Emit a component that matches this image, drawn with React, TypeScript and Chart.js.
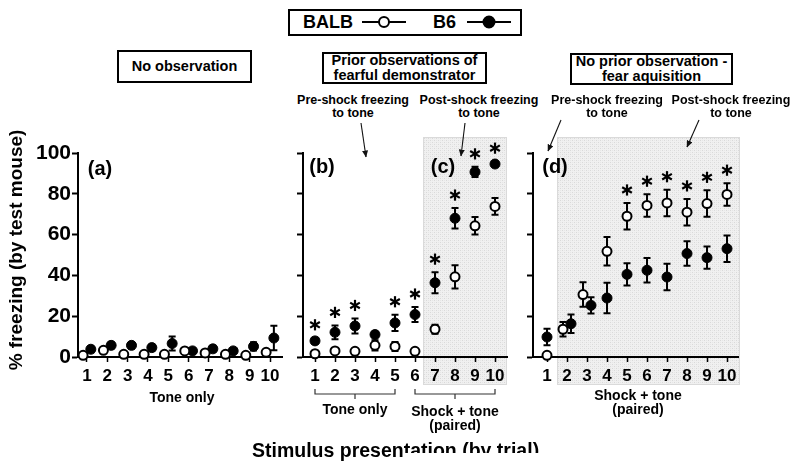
import React, { useEffect, useRef } from "react";
import { Chart, registerables } from "chart.js";

Chart.register(...registerables);

const FONT = '"Liberation Sans", Arial, Helvetica, sans-serif';

// ---------- data ----------
const trials = [1, 2, 3, 4, 5, 6, 7, 8, 9, 10];
const yTicks = [0, 20, 40, 60, 80, 100];

// (a) No observation
const aBalb = [0.8, 3.3, 1.3, 1.3, 1.3, 3, 2, 1.3, 0.8, 2.3];
const aBalbSem = [0.3, 0.3, 0.3, 0.3, 0.3, 0.3, 0.3, 0.3, 0.3, 0.3];
const aB6 = [3.8, 5.7, 5.7, 4.6, 6.6, 3, 4, 3, 5.2, 9.3];
const aB6Sem = [1.5, 1.5, 1.5, 1.5, 3.4, 1, 1.5, 1, 2, 6];
const aSig: number[] = [];

// (b)/(c) Prior observations of fearful demonstrator
const bcBalb = [1.6, 3, 2.8, 5.7, 5.2, 2.8, 13.6, 39.3, 64.3, 73.8];
const bcBalbSem = [0.5, 0.5, 0.5, 2.5, 2.2, 0.5, 2.2, 5.7, 4.3, 4.1];
const bcB6 = [7.9, 12.1, 15.2, 11, 16.7, 20.8, 36.4, 68, 90.7, 94.6];
const bcB6Sem = [1.5, 3.4, 3.7, 1.5, 4, 3.7, 5.2, 5, 2.5, 1.4];
const bcSig = [1, 2, 3, 5, 6, 7, 8, 9, 10];

// (d) No prior observation - fear acquisition
const dBalb = [0.8, 13.6, 30.6, 51.8, 69, 74.3, 75.5, 71, 75.2, 79.7];
const dBalbSem = [0.3, 3.5, 6, 7, 6.5, 5.5, 6.5, 6.5, 6.5, 5.5];
const dB6 = [9.8, 16.3, 25.3, 28.9, 40.5, 42.5, 39.2, 50.7, 48.7, 53.1];
const dB6Sem = [4, 4.5, 4, 7.5, 5.5, 6, 6.5, 6, 5.5, 6.5];
const dSig = [5, 6, 7, 8, 9, 10];

// ---------- helpers ----------
type PanelCfg = {
  left: number;
  width: number;
  yWidth: number;
  padRight: number;
  xMin: number;
  xMax: number;
  yLabels: boolean;
  balb: number[];
  balbSem: number[];
  b6: number[];
  b6Sem: number[];
  sig: number[];
  split: number[];
  splitOffset: number;
  shade?: [number, number];
  brackets?: [number, number][];
};

let shadePattern: CanvasPattern | null = null;
function getPattern(ctx: CanvasRenderingContext2D) {
  if (shadePattern) return shadePattern;
  const c = document.createElement("canvas");
  c.width = 4;
  c.height = 4;
  const g = c.getContext("2d")!;
  g.fillStyle = "#f0f0f0";
  g.fillRect(0, 0, 4, 4);
  g.fillStyle = "#d9d9d9";
  g.fillRect(0, 0, 1, 1);
  g.fillRect(2, 2, 1, 1);
  g.fillStyle = "#e6e6e6";
  g.fillRect(2, 0, 1, 1);
  g.fillRect(0, 2, 1, 1);
  shadePattern = ctx.createPattern(c, "repeat");
  return shadePattern;
}

function drawStar(ctx: CanvasRenderingContext2D, x: number, y: number) {
  const r = 5.6;
  ctx.save();
  ctx.strokeStyle = "#000";
  ctx.lineWidth = 2.2;
  for (let k = 0; k < 3; k++) {
    const a = Math.PI / 2 + (k * Math.PI) / 3;
    ctx.beginPath();
    ctx.moveTo(x + r * Math.cos(a), y + r * Math.sin(a));
    ctx.lineTo(x - r * Math.cos(a), y - r * Math.sin(a));
    ctx.stroke();
  }
  ctx.restore();
}

function makePlugin(cfg: PanelCfg) {
  return {
    id: "panelExtras",
    beforeDraw(chart: any) {
      if (!cfg.shade) return;
      const { ctx, chartArea } = chart;
      const xs = chart.scales.x;
      const x0 = xs.getPixelForValue(cfg.shade[0]);
      const x1 = xs.getPixelForValue(cfg.shade[1]);
      const y0 = chartArea.top - 16;
      const y1 = chartArea.bottom + 28;
      ctx.save();
      ctx.fillStyle = getPattern(ctx) || "#ebebeb";
      ctx.fillRect(x0, y0, x1 - x0, y1 - y0);
      ctx.strokeStyle = "#dadada";
      ctx.lineWidth = 1;
      ctx.strokeRect(x0 + 0.5, y0 + 0.5, x1 - x0 - 1, y1 - y0 - 1);
      ctx.restore();
    },
    beforeDatasetsDraw(chart: any) {
      const { ctx } = chart;
      const ys = chart.scales.y;
      ctx.save();
      ctx.strokeStyle = "#000";
      ctx.lineWidth = 2;
      chart.data.datasets.forEach((ds: any, i: number) => {
        const meta = chart.getDatasetMeta(i);
        meta.data.forEach((pt: any, j: number) => {
          const v = ds.data[j].y;
          const e = ds.errors[j];
          if (!e) return;
          const yt = ys.getPixelForValue(v + e);
          const yb = ys.getPixelForValue(Math.max(0, v - e));
          const x = pt.x;
          ctx.beginPath();
          ctx.moveTo(x, yt);
          ctx.lineTo(x, yb);
          ctx.moveTo(x - 3.5, yt);
          ctx.lineTo(x + 3.5, yt);
          ctx.moveTo(x - 3.5, yb);
          ctx.lineTo(x + 3.5, yb);
          ctx.stroke();
        });
      });
      ctx.restore();
    },
    afterDatasetsDraw(chart: any) {
      const { ctx } = chart;
      const xs = chart.scales.x;
      const ys = chart.scales.y;
      cfg.sig.forEach((t) => {
        const j = t - 1;
        const top = Math.max(cfg.balb[j] + cfg.balbSem[j], cfg.b6[j] + cfg.b6Sem[j]);
        drawStar(ctx, xs.getPixelForValue(t), ys.getPixelForValue(top) - 13);
      });
    },
    afterDraw(chart: any) {
      if (!cfg.brackets) return;
      const { ctx, chartArea } = chart;
      const xs = chart.scales.x;
      const y = chartArea.bottom + 37;
      ctx.save();
      ctx.strokeStyle = "#333";
      ctx.lineWidth = 1.2;
      cfg.brackets.forEach(([a, b]) => {
        const x0 = xs.getPixelForValue(a);
        const x1 = xs.getPixelForValue(b);
        const xm = (x0 + x1) / 2;
        ctx.beginPath();
        ctx.moveTo(x0, y - 5);
        ctx.lineTo(x0, y);
        ctx.lineTo(x1, y);
        ctx.lineTo(x1, y - 5);
        ctx.moveTo(xm, y);
        ctx.lineTo(xm, y + 5);
        ctx.stroke();
      });
      ctx.restore();
    },
  };
}

const PANEL_TOP = 120;
const PANEL_H = 300;
const AREA_TOP = 33; // 153 on page
const AREA_BOTTOM = 237; // 357 on page

function Panel({ cfg }: { cfg: PanelCfg }) {
  const ref = useRef<HTMLCanvasElement>(null);
  useEffect(() => {
    if (!ref.current) return;
    const xFor = (t: number, side: number) =>
      cfg.split.includes(t) ? t + side * cfg.splitOffset : t;
    const chart = new Chart(ref.current, {
      type: "scatter",
      data: {
        datasets: [
          {
            label: "BALB",
            data: trials.map((t, i) => ({ x: xFor(t, -1), y: cfg.balb[i] })),
            errors: cfg.balbSem,
            pointStyle: "circle",
            pointRadius: 4.5,
            pointBackgroundColor: "#fff",
            pointBorderColor: "#000",
            pointBorderWidth: 2,
            showLine: false,
            clip: false,
          } as any,
          {
            label: "B6",
            data: trials.map((t, i) => ({ x: xFor(t, 1), y: cfg.b6[i] })),
            errors: cfg.b6Sem,
            pointStyle: "circle",
            pointRadius: 5,
            pointBackgroundColor: "#000",
            pointBorderColor: "#000",
            pointBorderWidth: 1,
            showLine: false,
            clip: false,
          } as any,
        ],
      },
      options: {
        animation: false,
        responsive: true,
        maintainAspectRatio: false,
        events: [],
        layout: { padding: { left: 0, right: cfg.padRight, top: AREA_TOP, bottom: 0 } },
        plugins: { legend: { display: false }, tooltip: { enabled: false } },
        scales: {
          x: {
            type: "linear",
            min: cfg.xMin,
            max: cfg.xMax,
            afterBuildTicks: (s: any) => {
              s.ticks = trials.map((v) => ({ value: v }));
            },
            afterFit: (s: any) => {
              s.height = PANEL_H - AREA_BOTTOM;
            },
            border: { display: true, color: "#000", width: 2 },
            grid: {
              display: true,
              drawOnChartArea: false,
              drawTicks: true,
              tickLength: 5,
              tickColor: "#000",
              tickWidth: 1.5,
            },
            ticks: {
              autoSkip: false,
              maxRotation: 0,
              color: "#000",
              padding: 4,
              font: { family: FONT, size: 17, weight: "bold" },
            },
          },
          y: {
            type: "linear",
            min: 0,
            max: 100,
            afterBuildTicks: (s: any) => {
              s.ticks = yTicks.map((v) => ({ value: v }));
            },
            afterFit: (s: any) => {
              s.width = cfg.yWidth;
            },
            border: { display: true, color: "#000", width: 2 },
            grid: {
              display: true,
              drawOnChartArea: false,
              drawTicks: true,
              tickLength: 6,
              tickColor: "#000",
              tickWidth: 2,
            },
            ticks: {
              display: cfg.yLabels,
              color: "#000",
              padding: 1,
              font: { family: FONT, size: 21, weight: "bold" },
            },
          },
        },
      } as any,
      plugins: [makePlugin(cfg) as any],
    });
    return () => chart.destroy();
  }, [cfg]);
  return (
    <div
      style={{
        position: "absolute",
        left: cfg.left,
        top: PANEL_TOP,
        width: cfg.width,
        height: PANEL_H,
      }}
    >
      <canvas ref={ref} />
    </div>
  );
}

const panelA: PanelCfg = {
  left: 0,
  width: 290,
  yWidth: 78,
  padRight: 8,
  xMin: 0.56,
  xMax: 10.59,
  yLabels: true,
  balb: aBalb,
  balbSem: aBalbSem,
  b6: aB6,
  b6Sem: aB6Sem,
  sig: aSig,
  split: trials,
  splitOffset: 0.19,
};

const panelBC: PanelCfg = {
  left: 290,
  width: 240,
  yWidth: 13,
  padRight: 23,
  xMin: 0.4,
  xMax: 10.6,
  yLabels: false,
  balb: bcBalb,
  balbSem: bcBalbSem,
  b6: bcB6,
  b6Sem: bcB6Sem,
  sig: bcSig,
  split: [],
  splitOffset: 0,
  shade: [6.4, 10.6],
  brackets: [
    [1, 5],
    [6, 10],
  ],
};

const panelD: PanelCfg = {
  left: 520,
  width: 280,
  yWidth: 13,
  padRight: 62,
  xMin: 0.3,
  xMax: 10.55,
  yLabels: false,
  balb: dBalb,
  balbSem: dBalbSem,
  b6: dB6,
  b6Sem: dB6Sem,
  sig: dSig,
  split: [2, 3],
  splitOffset: 0.2,
  shade: [1.5, 10.65],
};

// ---------- text helpers ----------
function T({
  x,
  y,
  size,
  children,
  lh,
}: {
  x: number;
  y: number;
  size: number;
  children: React.ReactNode;
  lh?: number;
}) {
  return (
    <div
      style={{
        position: "absolute",
        left: x,
        top: y,
        transform: "translate(-50%, -50%)",
        fontFamily: FONT,
        fontWeight: "bold",
        fontSize: size,
        lineHeight: (lh ?? size) + "px",
        whiteSpace: "nowrap",
        textAlign: "center",
        color: "#000",
      }}
    >
      {children}
    </div>
  );
}

function Box({
  x,
  y,
  w,
  h,
  children,
}: {
  x: number;
  y: number;
  w: number;
  h: number;
  children: React.ReactNode;
}) {
  return (
    <div
      style={{
        position: "absolute",
        left: x,
        top: y,
        width: w,
        height: h,
        boxSizing: "border-box",
        border: "2px solid #000",
        display: "flex",
        alignItems: "center",
        justifyContent: "center",
        textAlign: "center",
        fontFamily: FONT,
        fontWeight: "bold",
        fontSize: 14.5,
        lineHeight: "15px",
        color: "#000",
      }}
    >
      <div>{children}</div>
    </div>
  );
}

function LegendSym({ x, filled }: { x: number; filled: boolean }) {
  return (
    <svg
      style={{ position: "absolute", left: x, top: 15 }}
      width={44}
      height={14}
    >
      <line x1={0} y1={7} x2={44} y2={7} stroke="#000" strokeWidth={2} />
      <circle
        cx={22}
        cy={7}
        r={filled ? 5.5 : 5}
        fill={filled ? "#000" : "#fff"}
        stroke="#000"
        strokeWidth={2}
      />
    </svg>
  );
}

export default function App() {
  return (
    <div
      style={{
        position: "absolute",
        left: 0,
        top: 0,
        width: 800,
        height: 468,
        background: "#fff",
        overflow: "hidden",
      }}
    >
      <Panel cfg={panelA} />
      <Panel cfg={panelBC} />
      <Panel cfg={panelD} />

      {/* legend */}
      <div
        style={{
          position: "absolute",
          left: 288,
          top: 9,
          width: 234,
          height: 27,
          boxSizing: "border-box",
          border: "2px solid #000",
        }}
      />
      <div
        style={{
          position: "absolute",
          left: 303,
          top: 12,
          fontFamily: FONT,
          fontWeight: "bold",
          fontSize: 18,
          lineHeight: "21px",
        }}
      >
        BALB
      </div>
      <LegendSym x={362} filled={false} />
      <div
        style={{
          position: "absolute",
          left: 433,
          top: 12,
          fontFamily: FONT,
          fontWeight: "bold",
          fontSize: 18,
          lineHeight: "21px",
        }}
      >
        B6
      </div>
      <LegendSym x={467} filled={true} />

      {/* panel titles */}
      <Box x={117} y={50} w={135} h={33}>
        No observation
      </Box>
      <Box x={322} y={52} w={165} h={32}>
        Prior observations of
        <br />
        fearful demonstrator
      </Box>
      <Box x={570} y={53} w={163} h={32}>
        No prior observation -
        <br />
        fear aquisition
      </Box>

      {/* annotations */}
      <T x={353} y={107} size={12.5} lh={13}>
        Pre-shock freezing
        <br />
        to tone
      </T>
      <T x={479} y={107} size={12.5} lh={13}>
        Post-shock freezing
        <br />
        to tone
      </T>
      <T x={607} y={107} size={12.5} lh={13}>
        Pre-shock freezing
        <br />
        to tone
      </T>
      <T x={731} y={107} size={12.5} lh={13}>
        Post-shock freezing
        <br />
        to tone
      </T>

      <svg
        style={{ position: "absolute", left: 0, top: 0, pointerEvents: "none" }}
        width={800}
        height={468}
      >
        <defs>
          <marker
            id="ah"
            markerWidth={7}
            markerHeight={6}
            refX={6.5}
            refY={3}
            orient="auto"
            markerUnits="userSpaceOnUse"
          >
            <path d="M0,0 L7,3 L0,6 Z" fill="#111" />
          </marker>
        </defs>
        <line x1={361} y1={123} x2={366} y2={157} stroke="#111" strokeWidth={1.1} markerEnd="url(#ah)" />
        <line x1={465} y1={123} x2={461} y2={156} stroke="#111" strokeWidth={1.1} markerEnd="url(#ah)" />
        <line x1={561} y1={120} x2={548} y2={151} stroke="#111" strokeWidth={1.1} markerEnd="url(#ah)" />
        <line x1={699} y1={120} x2={687} y2={147} stroke="#111" strokeWidth={1.1} markerEnd="url(#ah)" />
      </svg>

      {/* panel letters */}
      <T x={100} y={168} size={20}>(a)</T>
      <T x={322} y={166} size={20}>(b)</T>
      <T x={443} y={166} size={20}>(c)</T>
      <T x={555} y={166} size={20}>(d)</T>

      {/* x group labels */}
      <T x={182} y={397} size={14}>Tone only</T>
      <T x={355} y={409} size={14}>Tone only</T>
      <T x={455} y={418} size={14} lh={14}>
        Shock + tone
        <br />
        (paired)
      </T>
      <T x={638} y={402} size={14} lh={14}>
        Shock + tone
        <br />
        (paired)
      </T>

      {/* axis titles */}
      <div
        style={{
          position: "absolute",
          left: 16,
          top: 250,
          transform: "translate(-50%, -50%) rotate(-90deg)",
          fontFamily: FONT,
          fontWeight: "bold",
          fontSize: 19,
          whiteSpace: "nowrap",
          lineHeight: "20px",
        }}
      >
        % freezing (by test mouse)
      </div>
      <div
        style={{
          position: "absolute",
          left: 252,
          top: 439,
          fontFamily: FONT,
          fontWeight: "bold",
          fontSize: 19.5,
          whiteSpace: "nowrap",
          lineHeight: "22px",
        }}
      >
        Stimulus presentation (by trial)
      </div>
      <div
        style={{
          position: "absolute",
          left: 403,
          top: 453,
          width: 150,
          height: 15,
          background: "#fff",
        }}
      />
    </div>
  );
}
